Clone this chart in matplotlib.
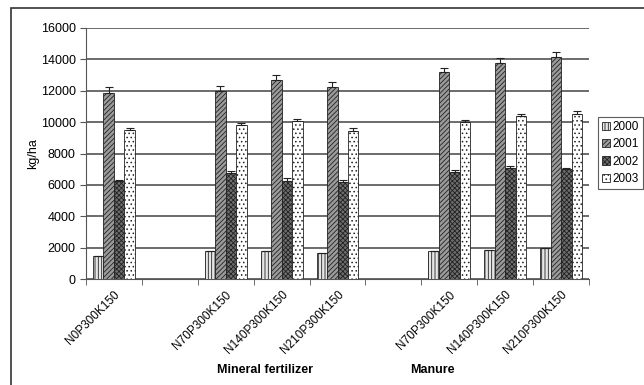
import numpy as np
import matplotlib.pyplot as plt
from matplotlib.patches import Rectangle

# categories (empty slots separate the groups)
categories = ['N0P300K150', '', 'N70P300K150', 'N140P300K150', 'N210P300K150',
              '', 'N70P300K150', 'N140P300K150', 'N210P300K150']
years = ['2000', '2001', '2002', '2003']

y2000 = [1470, 0, 1785, 1805, 1680, 0, 1785, 1830, 1955]
y2001 = [11850, 0, 12000, 12680, 12220, 0, 13190, 13790, 14130]
y2002 = [6250, 0, 6760, 6270, 6200, 0, 6840, 7090, 6990]
y2003 = [9500, 0, 9840, 10070, 9450, 0, 10010, 10370, 10540]

e2000 = [0, 0, 0, 0, 0, 0, 0, 0, 0]
e2001 = [390, 0, 300, 320, 360, 0, 280, 280, 320]
e2002 = [70, 0, 100, 150, 110, 0, 85, 110, 60]
e2003 = [140, 0, 80, 110, 150, 0, 125, 165, 190]

values = [y2000, y2001, y2002, y2003]
errors = [e2000, e2001, e2002, e2003]
faces = ['#e6e6e6', '#9a9a9a', '#6e6e6e', '#ffffff']
hatches = ['|||||', '///////', 'xxxxxxx', '....']

plt.rcParams['font.family'] = ['Liberation Sans', 'DejaVu Sans']
plt.rcParams['hatch.linewidth'] = 0.6

fig = plt.figure(figsize=(6.44, 3.85), dpi=100)
ax = fig.add_axes([86/644, 1-279/385, (589-86)/644, (279-28)/385])

x = np.arange(len(categories))
w = 0.1875
for i in range(4):
    xs = [x[k] + (i - 1.5) * w for k in range(len(x)) if values[i][k] > 0]
    vs = [values[i][k] for k in range(len(x)) if values[i][k] > 0]
    es = [errors[i][k] for k in range(len(x)) if values[i][k] > 0]
    ax.bar(xs, vs, w, color=faces[i], edgecolor='#222222', hatch=hatches[i],
           linewidth=0.6, label=years[i], zorder=3)
    lo = np.zeros(len(es))
    ax.errorbar(xs, vs, yerr=[lo, es], fmt='none', ecolor='#222222',
                elinewidth=0.8, capsize=3, capthick=0.8, zorder=4)

ax.set_xlim(-0.5, len(categories) - 0.5)
ax.set_ylim(0, 16000)
ax.set_yticks(np.arange(0, 16001, 2000))
ax.yaxis.grid(True, color='#444444', linewidth=1.1, zorder=0)
ax.set_axisbelow(True)
for s in ['top', 'right']:
    ax.spines[s].set_visible(False)
for s in ['left', 'bottom']:
    ax.spines[s].set_color('#555555')
ax.tick_params(axis='y', labelsize=9, length=4, color='#555555')

ax.set_xticks(x)
ax.set_xticklabels(categories, rotation=45, ha='right', rotation_mode='anchor', fontsize=8.5)
ax.tick_params(axis='x', which='major', length=0, pad=7)
ax.set_xticks(np.arange(-0.5, len(categories)), minor=True)
ax.tick_params(axis='x', which='minor', length=4, color='#555555')

ax.set_ylabel('kg/ha', fontsize=9, labelpad=1)

fig.text(265/644, 1-370/385, 'Mineral fertilizer', fontsize=9, fontweight='bold',
         ha='center', va='center')
fig.text(432/644, 1-370/385, 'Manure', fontsize=9, fontweight='bold',
         ha='center', va='center')

leg = ax.legend(loc='center left', bbox_to_anchor=(598/644, 1-153/385),
                bbox_transform=fig.transFigure, fontsize=8.5, frameon=True,
                fancybox=False, handlelength=0.7, handleheight=0.7,
                handletextpad=0.25, borderpad=0.3, labelspacing=0.45,
                borderaxespad=0)
leg.get_frame().set_edgecolor('#333333')
leg.get_frame().set_linewidth(0.8)

# outer chart border
fig.patches.append(Rectangle((11/644, -0.05), 1.0, 1-8/385+0.05, transform=fig.transFigure,
                             fill=False, edgecolor='#333333', linewidth=1.2))

fig.savefig('out.png', dpi=100)
